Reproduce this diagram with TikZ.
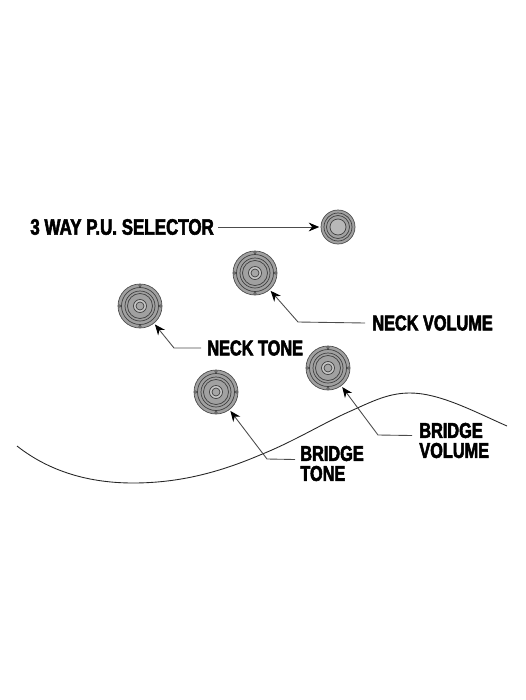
\documentclass[tikz,border=0pt]{standalone}
\usepackage{fontspec}
\usetikzlibrary{arrows.meta}
\setmainfont{Liberation Sans}
\newfontfamily\labelfont[FakeStretch=0.76,BoldFeatures={FakeBold=2.4}]{Liberation Sans}
\begin{document}
\begin{tikzpicture}[
    x=0.02cm, y=-0.02cm,
    knob/.style={circle, draw=black!70, line width=0.4pt, fill=black!37, minimum size=0.88cm, inner sep=0pt, outer sep=1pt},
    smallknob/.style={knob, minimum size=0.68cm},
    ring/.style={draw=black!75, line width=0.4pt},
    notch/.style={draw=black!70, line width=0.3pt},
    tag/.style={font=\labelfont\bfseries\fontsize{12.2}{11.4}\selectfont, align=left, anchor=west, inner sep=0pt},
    arrow/.style={draw=black!70, line width=0.5pt, -{Stealth[length=6pt,width=5pt,black]}}
]
\useasboundingbox (0,0) rectangle (525,700);
% Nodes
\node (selectorknob) [smallknob] at (338,227) {};
\node (neckvolumeknob) [knob] at (255,273) {};
\node (necktoneknob) [knob] at (140,306) {};
\node (bridgevolumeknob) [knob] at (328,368) {};
\node (bridgetoneknob) [knob] at (216,392) {};

\node (selector) [tag, font=\labelfont\bfseries\fontsize{12.7}{11.4}\selectfont] at (30,227) {3 WAY P.U. SELECTOR};
\node (neckvolume) [tag] at (372,323) {NECK VOLUME};
\node (necktone) [tag] at (207,348) {NECK TONE};
\node (bridgevolume) [tag] at (419,440.5) {BRIDGE\\VOLUME};
\node (bridgetone) [tag] at (300,463.5) {BRIDGE\\TONE};

% Rings
\foreach \k in {neckvolumeknob, necktoneknob, bridgevolumeknob, bridgetoneknob} {
  \foreach \r in {18.5, 15, 12.5} \draw [ring] (\k.center) circle (\r);
  \draw [ring, fill=black!22] (\k.center) circle (6.5);
  \draw [ring, fill=black!35] (\k.center) circle (4);
  \foreach \a in {0, 90, 180, 270} \draw [notch] (\k.center) ++(\a:20.2) circle (1.3);
}
\foreach \r in {14, 11.5} \draw [ring] (selectorknob.center) circle (\r);
\draw [ring, fill=black!28] (selectorknob.center) circle (8);

% Body
\draw [black!85, line width=0.5pt] (17,446)
  .. controls (50,472) and (90,483) .. (133,483)
  .. controls (180,483) and (220,472) .. (260,455)
  .. controls (295,441) and (325,422) .. (353,410)
  .. controls (375,400) and (390,393) .. (410,393)
  .. controls (440,393) and (475,412) .. (507,426);

% Arrows
\coordinate (neckvolumebend) at (298,322);
\coordinate (necktonebend) at (174,348);
\coordinate (bridgevolumebend) at (378,435);
\coordinate (bridgetonebend) at (267,459);
\draw [arrow] (selector.east) ++(4,0) -- (selectorknob);
\draw [arrow] (neckvolume.west) ++(-7,0) -- (neckvolumebend) -- (neckvolumeknob);
\draw [arrow] (necktone.west) ++(-6,0) -- (necktonebend) -- (necktoneknob);
\draw [arrow] (bridgevolume.west) ++(-7,-5) -- (bridgevolumebend) -- (bridgevolumeknob);
\draw [arrow] (bridgetone.west) ++(-5,-4) -- (bridgetonebend) -- (bridgetoneknob);

\end{tikzpicture}
\end{document}
